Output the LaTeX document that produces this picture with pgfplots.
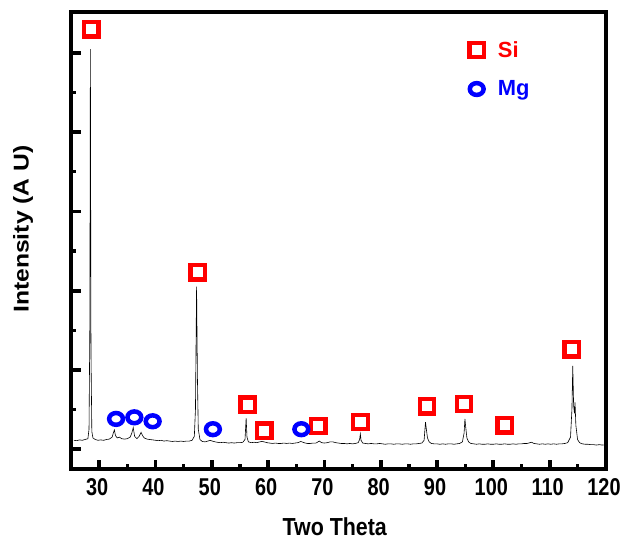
\documentclass[border=0pt]{standalone}
\usepackage{fontspec}
\setmainfont{Liberation Sans}
\usepackage{graphicx}
\usepackage{pgfplots}
\pgfplotsset{compat=1.18}

\begin{document}
\begin{tikzpicture}
\useasboundingbox (0,0) rectangle (622bp,540bp);
\begin{axis}[
    at={(71bp,71bp)}, anchor=south west,
    scale only axis, width=535bp, height=457bp,
    xmin=25, xmax=120, ymin=-0.2525, ymax=5.518,
    xtick={30,40,...,120}, minor x tick num=1,
    ytick={0,...,5}, minor y tick num=1, yticklabels={},
    xtick pos=bottom, ytick pos=left, tick align=inside,
    axis line style={line width=3.8bp},
    major tick length=9.5bp, minor tick length=5bp,
    major tick style={line width=3.8bp, black},
    minor tick style={line width=3.3bp, black},
    /pgf/number format/assume math mode=true,
    xticklabel={\scalebox{1}[1.22]{\pgfmathprintnumber{\tick}}},
    xticklabel style={font=\bfseries\fontsize{20}{24}\selectfont, yshift=-6bp, xshift=-2bp},
    xlabel={\scalebox{1}[1.15]{Two Theta}},
    ylabel={\scalebox{1.15}[1]{Intensity (A U)}},
    label style={font=\bfseries\fontsize{21.5}{26}\selectfont},
    xlabel style={at={(axis description cs:0.493,-0.127)}, anchor=center},
    ylabel style={at={(axis description cs:-0.0897,0.525)}, anchor=center},
    legend style={at={(axis cs:95.2,5.2)}, anchor=north west, draw=none, fill=none,
        font=\bfseries\fontsize{22}{26}\selectfont, row sep=18bp, column sep=12bp},
    legend cell align=left,
]
\addplot[black, line width=0.6bp, forget plot] coordinates {
(25.5,0.11)(26.0,0.105)(26.5,0.115)(27.0,0.11)(27.5,0.12)(28.0,0.13)(28.2,0.25)
(28.35,1.6)(28.44,5.05)(28.55,1.2)(28.7,0.22)(28.9,0.14)(29.3,0.12)(29.8,0.11)
(30.3,0.115)(30.8,0.11)(31.3,0.12)(31.8,0.125)(32.3,0.15)(32.55,0.21)(32.7,0.24)
(32.9,0.17)(33.2,0.14)(33.6,0.15)(34.0,0.13)(34.5,0.125)(35.0,0.13)(35.5,0.15)
(35.8,0.20)(36.05,0.27)(36.3,0.16)(36.7,0.13)(37.1,0.16)(37.45,0.21)(37.7,0.17)
(38.0,0.14)(38.5,0.125)(39.0,0.12)(39.5,0.115)(40.0,0.11)(40.5,0.105)(41.0,0.11)
(41.5,0.10)(42.0,0.105)(42.5,0.10)(43.0,0.095)(43.5,0.10)(44.0,0.095)(44.5,0.10)
(45.0,0.095)(45.5,0.10)(46.0,0.10)(46.5,0.11)(46.9,0.16)(47.1,0.5)(47.3,2.05)
(47.45,0.9)(47.6,0.25)(47.9,0.12)(48.3,0.095)(48.8,0.09)(49.3,0.10)(49.7,0.11)
(50.1,0.10)(50.6,0.09)(51.0,0.085)(51.5,0.08)(52.0,0.085)(52.5,0.08)(53.0,0.075)
(53.5,0.08)(54.0,0.075)(54.5,0.08)(55.0,0.08)(55.5,0.085)(55.9,0.12)(56.1,0.39)
(56.25,0.15)(56.5,0.09)(57.0,0.08)(57.5,0.085)(58.0,0.08)(58.5,0.09)(58.9,0.095)
(59.3,0.09)(59.8,0.08)(60.3,0.075)(60.8,0.07)(61.3,0.075)(61.8,0.07)(62.3,0.07)
(62.8,0.075)(63.3,0.07)(63.8,0.075)(64.3,0.07)(64.8,0.075)(65.3,0.08)(65.8,0.095)
(66.2,0.085)(66.6,0.075)(67.0,0.07)(67.5,0.07)(68.0,0.075)(68.5,0.075)(69.1,0.10)
(69.5,0.08)(70.0,0.075)(70.5,0.08)(71.0,0.09)(71.5,0.09)(72.0,0.08)(72.5,0.075)
(73.0,0.07)(73.5,0.07)(74.0,0.065)(74.5,0.07)(75.0,0.065)(75.5,0.07)(76.0,0.08)
(76.25,0.12)(76.38,0.19)(76.5,0.11)(76.8,0.075)(77.3,0.07)(77.8,0.065)(78.3,0.07)
(78.8,0.065)(79.3,0.065)(79.8,0.07)(80.3,0.065)(80.8,0.06)(81.3,0.065)(81.8,0.065)
(82.3,0.06)(82.8,0.065)(83.3,0.065)(83.8,0.06)(84.3,0.065)(84.8,0.065)(85.3,0.06)
(85.8,0.065)(86.3,0.065)(86.8,0.07)(87.3,0.075)(87.7,0.11)(87.95,0.34)(88.1,0.25)
(88.3,0.14)(88.6,0.09)(89.0,0.07)(89.5,0.065)(90.0,0.065)(90.5,0.06)(91.0,0.065)
(91.5,0.06)(92.0,0.065)(92.5,0.065)(93.0,0.06)(93.5,0.065)(94.0,0.07)(94.5,0.09)
(94.8,0.20)(94.95,0.38)(95.1,0.27)(95.3,0.14)(95.6,0.09)(96.0,0.07)(96.5,0.065)
(97.0,0.06)(97.5,0.065)(98.0,0.06)(98.5,0.06)(99.0,0.065)(99.5,0.06)(100.0,0.06)
(100.5,0.065)(101.0,0.06)(101.5,0.06)(102.0,0.065)(102.5,0.06)(103.0,0.06)
(103.5,0.065)(104.0,0.06)(104.5,0.065)(105.0,0.065)(105.5,0.07)(106.0,0.07)
(106.5,0.08)(106.8,0.085)(107.2,0.07)(107.7,0.065)(108.2,0.06)(108.7,0.065)
(109.2,0.06)(109.7,0.065)(110.2,0.06)(110.7,0.065)(111.2,0.06)(111.7,0.065)
(112.2,0.065)(112.7,0.07)(113.2,0.08)(113.7,0.15)(113.95,0.5)(114.1,1.05)
(114.25,0.55)(114.4,0.45)(114.5,0.59)(114.65,0.3)(114.95,0.12)(115.3,0.08)
(115.8,0.065)(116.3,0.06)(116.8,0.06)(117.3,0.055)(117.8,0.055)(118.3,0.05)
(118.8,0.055)(119.3,0.05)(119.6,0.05)
};
% Si reflections
\addplot[only marks, mark=square, mark size=7.2bp, red,
    mark options={line width=4.3bp, solid}] coordinates {
(28.6,5.30)(47.5,2.23)(56.4,0.56)(59.3,0.23)(68.9,0.29)(76.4,0.34)
(88.2,0.54)(94.8,0.57)(102.0,0.30)(113.9,1.26)};
\addlegendentry{\textcolor{red}{Si}}
% Mg reflections
\addplot[only marks, mark=o, mark size=5.9bp, blue,
    mark options={line width=4.5bp, xscale=1.17, solid}] coordinates {
(33.0,0.38)(36.25,0.40)(39.5,0.35)(50.2,0.25)(65.9,0.25)};
\addlegendentry{\textcolor{blue}{Mg}}
\end{axis}
\end{tikzpicture}
\end{document}
